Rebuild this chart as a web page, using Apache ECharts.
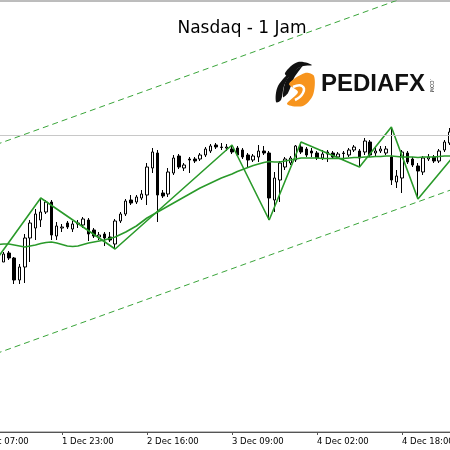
<!DOCTYPE html>
<html><head><meta charset="utf-8">
<script src="https://cdn.jsdelivr.net/npm/echarts@6/dist/echarts.min.js"></script>
<style>html,body{margin:0;padding:0;background:#fff;overflow:hidden;width:450px;height:450px;position:relative}
#c{position:absolute;left:-26px;top:0;width:490px;height:450px}</style>
</head><body><div id="c"></div>
<script>
// Tick labels (every 16 hourly bars)
const tickLabels = ['1 Dec 07:00', '1 Dec 23:00', '2 Dec 16:00', '3 Dec 09:00', '4 Dec 02:00', '4 Dec 18:00'];
const tickStep = 16;

// Hourly candles: [open, close, low, high]
const candles = [
  [12300,12308,12296,12316],[12308,12296,12288,12312],[12296,12286,12276,12302],[12286,12294,12280,12300],
  [12294,12288,12286,12298],[12276,12292,12276,12296],[12294,12284,12280,12298],[12284,12240,12232,12286],
  [12240,12266,12232,12272],[12266,12324,12234,12332],[12324,12354,12276,12360],[12344,12372,12320,12382],
  [12360,12376,12346,12404],[12376,12396,12372,12400],[12396,12330,12320,12400],[12328,12348,12320,12356],
  [12344,12346,12336,12352],[12354,12346,12342,12358],[12342,12352,12336,12358],[12352,12354,12344,12360],
  [12350,12362,12344,12366],[12360,12332,12318,12364],[12340,12328,12324,12344],[12326,12330,12320,12336],
  [12332,12324,12308,12336],[12326,12320,12316,12336],[12312,12358,12302,12362],[12358,12372,12354,12376],
  [12372,12398,12368,12402],[12400,12394,12390,12410],[12396,12406,12392,12410],[12404,12412,12400,12420],
  [12410,12466,12390,12474],[12464,12496,12454,12504],[12494,12410,12356,12500],[12414,12408,12404,12420],
  [12412,12456,12406,12464],[12454,12484,12450,12490],[12488,12466,12462,12492],[12464,12470,12458,12474],
  [12482,12480,12454,12486],[12482,12478,12474,12486],[12482,12490,12478,12494],[12490,12502,12486,12506],
  [12498,12508,12494,12512],[12510,12506,12502,12514],[12506,12505,12500,12514],[12504,12506,12498,12512],
  [12502,12496,12492,12510],[12504,12490,12486,12508],[12500,12486,12482,12504],[12490,12480,12466,12494],
  [12480,12488,12476,12492],[12486,12498,12476,12510],[12498,12494,12490,12508],[12494,12404,12360,12498],
  [12400,12444,12376,12456],[12440,12474,12396,12478],[12466,12482,12460,12486],[12474,12484,12470,12488],
  [12480,12508,12476,12510],[12506,12496,12492,12516],[12502,12490,12486,12506],[12498,12494,12486,12504],
  [12494,12484,12480,12498],[12484,12492,12480,12500],[12496,12492,12476,12500],[12494,12486,12482,12498],
  [12486,12492,12482,12496],[12494,12493,12480,12498],[12490,12500,12486,12504],[12500,12506,12496,12510],
  [12498,12484,12466,12502],[12496,12518,12490,12524],[12516,12490,12486,12520],[12494,12498,12488,12506],
  [12498,12502,12494,12508],[12494,12502,12490,12508],[12486,12440,12430,12546],[12436,12448,12424,12460],
  [12444,12496,12414,12500],[12494,12476,12472,12498],[12482,12470,12466,12486],[12468,12458,12402,12474],
  [12456,12484,12450,12488],[12482,12486,12478,12492],[12486,12478,12474,12490],[12478,12498,12474,12502],
  [12500,12516,12496,12520],[12514,12536,12510,12544],[12536,12544,12532,12550],[12544,12538,12534,12552]
];

// Moving average line (per bar)
const maValues = [
  12312,12312,12311,12311,12311,12312,12312,12310,12308,12306,12308,12310,12313,12315,12316,12314,
  12311,12308,12307,12308,12311,12314,12316,12318,12320,12323,12326,12331,12336,12342,12348,12356,
  12364,12370,12376,12382,12388,12394,12400,12406,12412,12418,12424,12429,12434,12439,12444,12448,
  12452,12457,12461,12465,12469,12472,12475,12477,12476,12476,12478,12480,12482,12484,12484,12484,
  12484,12483,12483,12483,12483,12483,12484,12485,12485,12486,12486,12487,12487,12488,12488,12487,
  12486,12486,12486,12485,12486,12486,12486,12487,12488,12488,12489,12490
];

// ZigZag swing points
const zigzagIdx = [4, 12, 26, 48, 55, 61, 72, 78, 83, 91];
const zigzagVal = [12286, 12404, 12302, 12510, 12360, 12516, 12466, 12546, 12402, 12504];

// Price channel (dashed)
const channelIdx = [0, 91];
const channelUpper = [12497, 12845];
const channelLower = [12079, 12427];

// Horizontal level
const levelLine = 12529;

const categories = candles.map((d, i) => String(i));
const zig = zigzagIdx.map((x, k) => [x, zigzagVal[k]]);
const chUp = channelIdx.map((x, k) => [x, channelUpper[k]]);
const chLo = channelIdx.map((x, k) => [x, channelLower[k]]);

const isTick = (i) => i % tickStep === 0 && (i / tickStep) < tickLabels.length;
const OX = 26; // container offset

const chart = echarts.init(document.getElementById('c'));
chart.setOption({
  animation: false,
  backgroundColor: '#fff',
  grid: { left: 0.34, right: 0.91, top: 1, bottom: 18, show: true, borderColor: '#7a7a7a', borderWidth: 1 },
  xAxis: {
    type: 'category', data: categories, boundaryGap: true,
    axisLine: { show: true, lineStyle: { color: '#555', width: 1 } },
    axisTick: { show: true, alignWithLabel: true, interval: (i) => isTick(i), length: 3, lineStyle: { color: '#555' } },
    axisLabel: {
      show: true, interval: (i) => isTick(i), align: 'left', margin: 5,
      fontSize: 8.5, fontFamily: 'DejaVu Sans', color: '#000',
      formatter: (v) => tickLabels[Math.round(Number(v) / tickStep)] || ''
    },
    splitLine: { show: false }
  },
  yAxis: { type: 'value', min: 11936, max: 12798, show: false, splitLine: { show: false } },
  title: {
    text: 'Nasdaq - 1 Jam', left: 237 + OX, top: 15, textAlign: 'center',
    textStyle: { fontFamily: '"Comic Sans MS", "DejaVu Sans"', fontSize: 17, fontWeight: 'normal', color: '#000' }
  },
  graphic: [
    { type: 'group', x: OX, y: 0, children: [
      { type: 'polygon', shape: { points: [[276,102],[278,86],[291,72],[284,86],[281,100]], smooth: 0.35 }, style: { fill: '#111' } },
      { type: 'polygon', shape: { points: [[283,97],[287,79],[303,65],[294,78],[288,93]], smooth: 0.35 }, style: { fill: '#111' } },
      { type: 'polygon', shape: { points: [[285,73],[298,62],[312,65],[300,67],[289,77]], smooth: 0.35 }, style: { fill: '#111' } },
      { type: 'polygon', shape: { points: [[289,84],[305,73],[314,76],[313,95],[303,106],[287,104],[298,92]], smooth: 0.3 }, style: { fill: '#F7941D' } },
      { type: 'polyline', shape: { points: [[293,87],[302,86],[303,93],[295,100]], smooth: 0.5 }, style: { fill: null, stroke: '#fff', lineWidth: 2.5 } },
      { type: 'text', x: 321, y: 72, style: { text: 'PEDIAFX', fontFamily: 'Liberation Sans', fontWeight: 'bold', fontSize: 24, fill: '#111' } },
      { type: 'text', x: 434, y: 79, rotation: -Math.PI / 2, style: { text: '.COM', fontFamily: 'Liberation Sans', fontSize: 5, fill: '#222' } }
    ] }
  ],
  series: [
    {
      type: 'line', data: chUp, showSymbol: false, silent: true,
      lineStyle: { color: '#3aa53a', width: 1, type: [6, 4] }, z: 1
    },
    {
      type: 'line', data: chLo, showSymbol: false, silent: true,
      lineStyle: { color: '#3aa53a', width: 1, type: [6, 4] }, z: 1
    },
    {
      type: 'candlestick', data: candles, barWidth: 3,
      itemStyle: { color: '#fff', color0: '#000', borderColor: '#000', borderColor0: '#000', borderWidth: 1 },
      markLine: {
        silent: true, symbol: 'none', label: { show: false },
        lineStyle: { color: '#c8c8c8', width: 1, type: 'solid' },
        data: [{ yAxis: levelLine }]
      },
      z: 2
    },
    {
      type: 'line', data: maValues, showSymbol: false, smooth: false,
      lineStyle: { color: '#2a9a2a', width: 1.6 }, z: 3
    },
    {
      type: 'line', data: zig, showSymbol: false,
      lineStyle: { color: '#2a9a2a', width: 1.6 }, z: 3
    }
  ]
});
</script>
</body></html>
